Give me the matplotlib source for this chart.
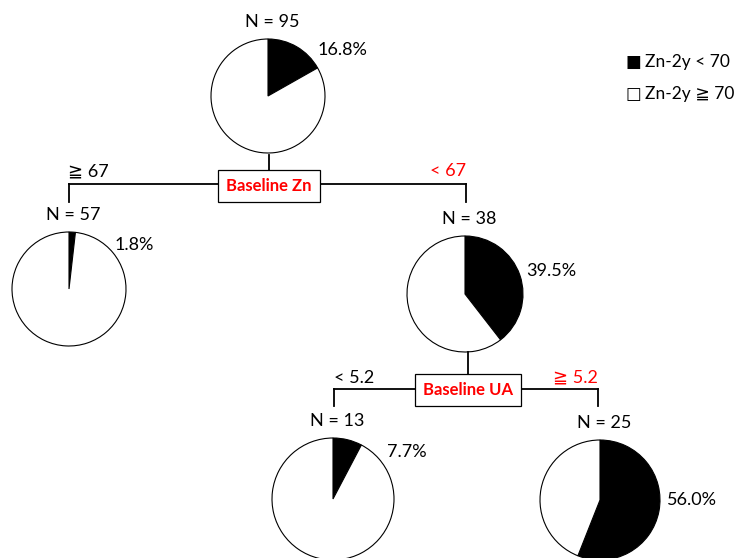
import matplotlib.pyplot as plt

plt.rcParams['font.family'] = ['Lato', 'DejaVu Sans']

# data
node_n = [95, 57, 38, 13, 25]
node_pct = [16.8, 1.8, 39.5, 7.7, 56.0]
split_names = ['Baseline Zn', 'Baseline UA']
split_left = ['\u2267 67', '< 5.2']
split_right = ['< 67', '\u2267 5.2']
legend_marks = ['\u25a0', '\u25a1']
legend_labels = ['Zn-2y < 70', 'Zn-2y \u2267 70']

W, H = 737, 558
def Y(y):
    return H - y

# layout (pixel coordinates, y from top)
pie_xy = [(268, 96), (69, 289), (465, 294), (333, 499), (600, 500)]
pie_r = [57, 57, 58, 61, 60]
pct_xy = [(318, 50), (115, 245), (526, 271), (387, 452), (667, 500)]
split_xy = [(269, 184, 69, 466, 172, 202, 155),
            (468, 389, 334, 598, 376, 406, 352)]
left_lab_xy = [(68, 172), (334, 378)]
right_lab_xy = [(466, 171), (598, 378)]
left_col = ['black', 'black']
right_col = ['red', 'red']

fig = plt.figure(figsize=(7.37, 5.58), dpi=100)
ax = fig.add_axes([0, 0, 1, 1])

for i in range(len(node_n)):
    p = node_pct[i]
    cx, cy = pie_xy[i]
    ax.pie([p, 100 - p], colors=['black', 'white'], startangle=90,
           counterclock=False, center=(cx, Y(cy)), radius=pie_r[i],
           wedgeprops=dict(edgecolor='black', linewidth=0.8))
    ax.text(cx + 4, Y(cy - pie_r[i] - 17), 'N = %d' % node_n[i], ha='center',
            va='center', fontsize=13)
    ax.text(pct_xy[i][0], Y(pct_xy[i][1]), '%.1f%%' % p, ha='left',
            va='center', fontsize=13)

for j in range(len(split_names)):
    cx, ly, xl, xr, by0, by1, stem = split_xy[j]
    ax.plot([cx, cx], [Y(stem), Y(by0)], color='black', lw=1.3)
    ax.plot([xl, xr], [Y(ly), Y(ly)], color='black', lw=1.3)
    ax.plot([xl, xl], [Y(ly), Y(by1)], color='black', lw=1.3)
    ax.plot([xr, xr], [Y(ly), Y(by1)], color='black', lw=1.3)
    ax.text(cx, Y((by0 + by1) / 2 - 1), split_names[j], ha='center', va='center',
            color='red', fontsize=12, fontweight='bold',
            bbox=dict(boxstyle='square,pad=0.5', fc='white', ec='black', lw=0.9))
    ax.text(left_lab_xy[j][0], Y(left_lab_xy[j][1]), split_left[j],
            ha='left', va='center', fontsize=13, color=left_col[j])
    ax.text(right_lab_xy[j][0], Y(right_lab_xy[j][1]), split_right[j],
            ha='right', va='center', fontsize=13, color=right_col[j])

for k in range(len(legend_labels)):
    ax.text(633, Y(62 + 32 * k), legend_marks[k], ha='center', va='center',
            fontsize=12, family='DejaVu Sans')
    ax.text(645, Y(62 + 32 * k), legend_labels[k], ha='left', va='center',
            fontsize=12.5)

ax.set_xlim(0, W)
ax.set_ylim(0, H)
ax.set_aspect('equal')
ax.axis('off')
fig.savefig('out.png', dpi=100)
